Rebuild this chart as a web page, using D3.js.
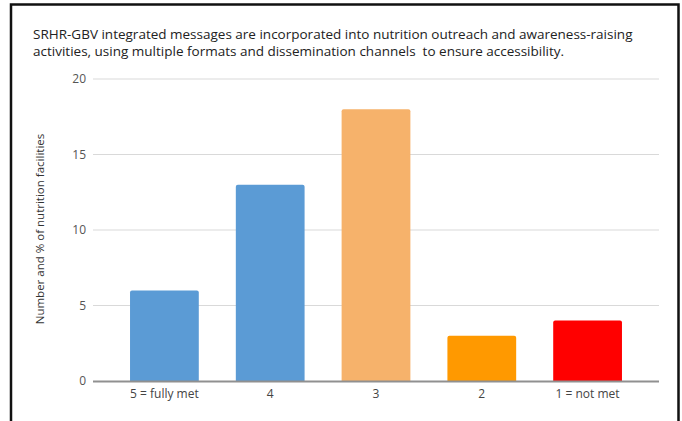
<!DOCTYPE html>
<html>
<head>
<meta charset="utf-8">
<script src="https://cdn.jsdelivr.net/npm/d3@7"></script>
<style>
  html, body { margin: 0; padding: 0; background: #fff; }
  svg { display: block; }
  text { font-family: "Open Sans", "Liberation Sans", sans-serif; }
</style>
</head>
<body>
<svg id="chart" width="682" height="421"></svg>
<script>
// Rating categories and number of facilities per rating
const categories = ["5 = fully met", "4", "3", "2", "1 = not met"];
const values = [6, 13, 18, 3, 4];
const barColors = ["#5b9bd5", "#5b9bd5", "#f6b26b", "#ff9900", "#ff0000"];
const yTicks = [0, 5, 10, 15, 20];
const titleLines = [
  "SRHR-GBV integrated messages are incorporated into nutrition outreach and awareness-raising",
  "activities, using multiple formats and dissemination channels  to ensure accessibility."
];
const yLabel = "Number and % of nutrition facilities";

const svg = d3.select("#chart");
const W = 682, H = 421;
const plot = { left: 93, right: 659, top: 79, bottom: 381 };
const font = '"Open Sans", "Liberation Sans", sans-serif';

// frame around the chart
svg.append("path")
  .attr("d", `M11,${H + 2} V4.5 H678.5 V${H + 2}`)
  .attr("fill", "none")
  .attr("stroke", "#111")
  .attr("stroke-width", 2.5);

// title
svg.append("g").selectAll("text")
  .data(titleLines)
  .join("text")
  .attr("x", 33)
  .attr("y", (d, i) => 39 + i * 17)
  .attr("font-size", 13.5)
  .attr("fill", "#222")
  .style("white-space", "pre")
  .attr("xml:space", "preserve")
  .text(d => d);

const x = d3.scaleBand()
  .domain(categories)
  .range([plot.left, plot.right])
  .paddingInner(0.35)
  .paddingOuter(0.35);

const y = d3.scaleLinear()
  .domain([0, 20])
  .range([plot.bottom, plot.top]);

// horizontal gridlines
svg.append("g").selectAll("line")
  .data(yTicks.filter(t => t > 0))
  .join("line")
  .attr("x1", plot.left)
  .attr("x2", plot.right)
  .attr("y1", d => y(d))
  .attr("y2", d => y(d))
  .attr("stroke", "#d9d9d9")
  .attr("stroke-width", 1);

// y axis tick labels
const yAxis = svg.append("g")
  .attr("transform", `translate(${plot.left},0)`)
  .call(d3.axisLeft(y).tickValues(yTicks).tickSize(0).tickPadding(7));
yAxis.select(".domain").remove();
yAxis.selectAll("text")
  .attr("font-size", 12)
  .attr("fill", "#555")
  .style("font-family", font);

// bars with slightly rounded tops
const r = 2;
svg.append("g").selectAll("path")
  .data(values)
  .join("path")
  .attr("fill", (d, i) => barColors[i])
  .attr("d", (d, i) => {
    const x0 = x(categories[i]), bw = x.bandwidth();
    const yt = y(d), yb = y(0);
    return `M${x0},${yb} V${yt + r} Q${x0},${yt} ${x0 + r},${yt} H${x0 + bw - r} Q${x0 + bw},${yt} ${x0 + bw},${yt + r} V${yb} Z`;
  });

// x axis
const xAxis = svg.append("g")
  .attr("transform", `translate(0,${plot.bottom})`)
  .call(d3.axisBottom(x).tickSize(0).tickPadding(8));
xAxis.select(".domain")
  .attr("d", `M${plot.left},0.5 H${plot.right}`)
  .attr("stroke", "#909090")
  .attr("stroke-width", 2);
xAxis.selectAll("text")
  .attr("font-size", 12)
  .attr("fill", "#444")
  .style("font-family", font);

// y axis title
svg.append("text")
  .attr("transform", `translate(44,229) rotate(-90)`)
  .attr("text-anchor", "middle")
  .attr("font-size", 11.5)
  .attr("fill", "#333")
  .text(yLabel);
</script>
</body>
</html>
